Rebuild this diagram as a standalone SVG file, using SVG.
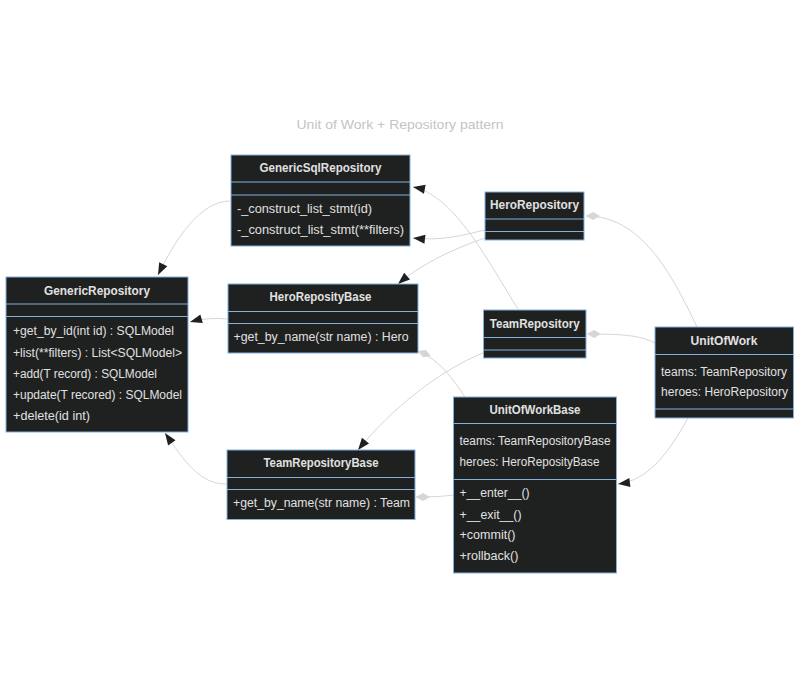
<svg xmlns="http://www.w3.org/2000/svg" width="800" height="690" viewBox="0 0 800 690">
<style>
.box{fill:#1f2020;stroke:#81b1db;stroke-width:1}
.div{stroke:#81b1db;stroke-width:1}
.t{font-family:"Liberation Sans",Arial,sans-serif;font-size:12px;fill:#e0e0e0}
.h{font-family:"Liberation Sans",Arial,sans-serif;font-size:12px;font-weight:bold;fill:#e0e0e0;text-anchor:middle}
.e{fill:none;stroke:#d6d6d6;stroke-width:1}
.title{font-family:"Liberation Sans",Arial,sans-serif;font-size:13px;fill:#c4c4c4;text-anchor:middle}
</style>
<defs>
<marker id="ext" markerUnits="userSpaceOnUse" markerWidth="14" markerHeight="12" refX="12" refY="4.5" orient="auto" overflow="visible">
<path d="M0,0 L12,4.5 L0,9 z" fill="#1f2020"/>
</marker>
<marker id="comp" markerUnits="userSpaceOnUse" markerWidth="16" markerHeight="10" refX="0" refY="4" orient="auto" overflow="visible">
<path d="M0,4 L7,0 L14,4 L7,8 z" fill="#d6d6d6"/>
</marker>
</defs>
<rect width="800" height="690" fill="#ffffff"/>
<text class="title" x="400" y="129" textLength="207" lengthAdjust="spacingAndGlyphs">Unit of Work + Repository pattern</text>

<g id="connectors">
<path class="e" d="M230,201 C200,201 175,240 158,275" marker-end="url(#ext)"/>
<path class="e" d="M228,319 Q208,317 190,322" marker-end="url(#ext)"/>
<path class="e" d="M226,484 C200,484 185,462 165,433" marker-end="url(#ext)"/>
<path class="e" d="M485,230 C460,236 440,241 413,238" marker-end="url(#ext)"/>
<path class="e" d="M485,238 C450,250 420,265 398,284" marker-end="url(#ext)"/>
<path class="e" d="M518,309 C490,265 455,195 413,187" marker-end="url(#ext)"/>
<path class="e" d="M483,353 C440,370 390,410 358,450" marker-end="url(#ext)"/>
<path class="e" d="M688,418 C670,450 650,480 618,484" marker-end="url(#ext)"/>
<path class="e" d="M418,351 C440,360 452,378 465,397" marker-start="url(#comp)"/>
<path class="e" d="M416,497 Q440,497 453,495" marker-start="url(#comp)"/>
<path class="e" d="M586,216 C640,216 670,270 697,327" marker-start="url(#comp)"/>
<path class="e" d="M587,334 C620,334 640,335 655,343" marker-start="url(#comp)"/>
</g>

<g id="GenericSqlRepository">
<rect class="box" x="231" y="155" width="179" height="91"/>
<line class="div" x1="231" y1="182" x2="410" y2="182"/>
<line class="div" x1="231" y1="195" x2="410" y2="195"/>
<text class="h" x="320.5" y="172" textLength="122" lengthAdjust="spacingAndGlyphs">GenericSqlRepository</text>
<text class="t" x="237" y="213" textLength="135" lengthAdjust="spacingAndGlyphs">-_construct_list_stmt(id)</text>
<text class="t" x="237" y="233.5" textLength="167" lengthAdjust="spacingAndGlyphs">-_construct_list_stmt(**filters)</text>
</g>

<g id="HeroRepository">
<rect class="box" x="485" y="192" width="99" height="48"/>
<line class="div" x1="485" y1="219" x2="584" y2="219"/>
<line class="div" x1="485" y1="231.5" x2="584" y2="231.5"/>
<text class="h" x="534.5" y="209" textLength="89" lengthAdjust="spacingAndGlyphs">HeroRepository</text>
</g>

<g id="TeamRepository">
<rect class="box" x="483.5" y="310" width="102.5" height="48"/>
<line class="div" x1="483.5" y1="337.5" x2="586" y2="337.5"/>
<line class="div" x1="483.5" y1="350" x2="586" y2="350"/>
<text class="h" x="534.75" y="328" textLength="90" lengthAdjust="spacingAndGlyphs">TeamRepository</text>
</g>

<g id="UnitOfWork">
<rect class="box" x="655" y="327" width="138.5" height="91"/>
<line class="div" x1="655" y1="354.5" x2="793.5" y2="354.5"/>
<line class="div" x1="655" y1="409" x2="793.5" y2="409"/>
<text class="h" x="724" y="345" textLength="67" lengthAdjust="spacingAndGlyphs">UnitOfWork</text>
<text class="t" x="661" y="376" textLength="126" lengthAdjust="spacingAndGlyphs">teams: TeamRepository</text>
<text class="t" x="661" y="396" textLength="127" lengthAdjust="spacingAndGlyphs">heroes: HeroRepository</text>
</g>

<g id="UnitOfWorkBase">
<rect class="box" x="453.5" y="397" width="163" height="176"/>
<line class="div" x1="453.5" y1="423.5" x2="616.5" y2="423.5"/>
<line class="div" x1="453.5" y1="479.5" x2="616.5" y2="479.5"/>
<text class="h" x="535" y="414" textLength="91" lengthAdjust="spacingAndGlyphs">UnitOfWorkBase</text>
<text class="t" x="459.5" y="445" textLength="151" lengthAdjust="spacingAndGlyphs">teams: TeamRepositoryBase</text>
<text class="t" x="459.5" y="466" textLength="140" lengthAdjust="spacingAndGlyphs">heroes: HeroReposityBase</text>
<text class="t" x="459.5" y="496.5" textLength="70" lengthAdjust="spacingAndGlyphs">+__enter__()</text>
<text class="t" x="459.5" y="518.5" textLength="62" lengthAdjust="spacingAndGlyphs">+__exit__()</text>
<text class="t" x="459.5" y="539" textLength="56" lengthAdjust="spacingAndGlyphs">+commit()</text>
<text class="t" x="459.5" y="560" textLength="59" lengthAdjust="spacingAndGlyphs">+rollback()</text>
</g>

<g id="TeamRepositoryBase">
<rect class="box" x="227" y="450" width="188" height="69.5"/>
<line class="div" x1="227" y1="477.5" x2="415" y2="477.5"/>
<line class="div" x1="227" y1="489.5" x2="415" y2="489.5"/>
<text class="h" x="321" y="467" textLength="115" lengthAdjust="spacingAndGlyphs">TeamRepositoryBase</text>
<text class="t" x="233" y="507" textLength="177" lengthAdjust="spacingAndGlyphs">+get_by_name(str name) : Team</text>
</g>

<g id="GenericRepository">
<rect class="box" x="6" y="277" width="182" height="155"/>
<line class="div" x1="6" y1="304" x2="188" y2="304"/>
<line class="div" x1="6" y1="316.5" x2="188" y2="316.5"/>
<text class="h" x="97" y="295" textLength="106" lengthAdjust="spacingAndGlyphs">GenericRepository</text>
<text class="t" x="13" y="335" textLength="161" lengthAdjust="spacingAndGlyphs">+get_by_id(int id) : SQLModel</text>
<text class="t" x="13" y="356.5" textLength="169" lengthAdjust="spacingAndGlyphs">+list(**filters) : List&lt;SQLModel&gt;</text>
<text class="t" x="13" y="377.5" textLength="144" lengthAdjust="spacingAndGlyphs">+add(T record) : SQLModel</text>
<text class="t" x="13" y="398.5" textLength="169" lengthAdjust="spacingAndGlyphs">+update(T recored) : SQLModel</text>
<text class="t" x="13" y="420" textLength="77" lengthAdjust="spacingAndGlyphs">+delete(id int)</text>
</g>

<g id="HeroReposityBase">
<rect class="box" x="228" y="284" width="190" height="69"/>
<line class="div" x1="228" y1="311.5" x2="418" y2="311.5"/>
<line class="div" x1="228" y1="323.5" x2="418" y2="323.5"/>
<text class="h" x="320.5" y="301" textLength="102" lengthAdjust="spacingAndGlyphs">HeroReposityBase</text>
<text class="t" x="233.5" y="341" textLength="175" lengthAdjust="spacingAndGlyphs">+get_by_name(str name) : Hero</text>
</g>
</svg>
